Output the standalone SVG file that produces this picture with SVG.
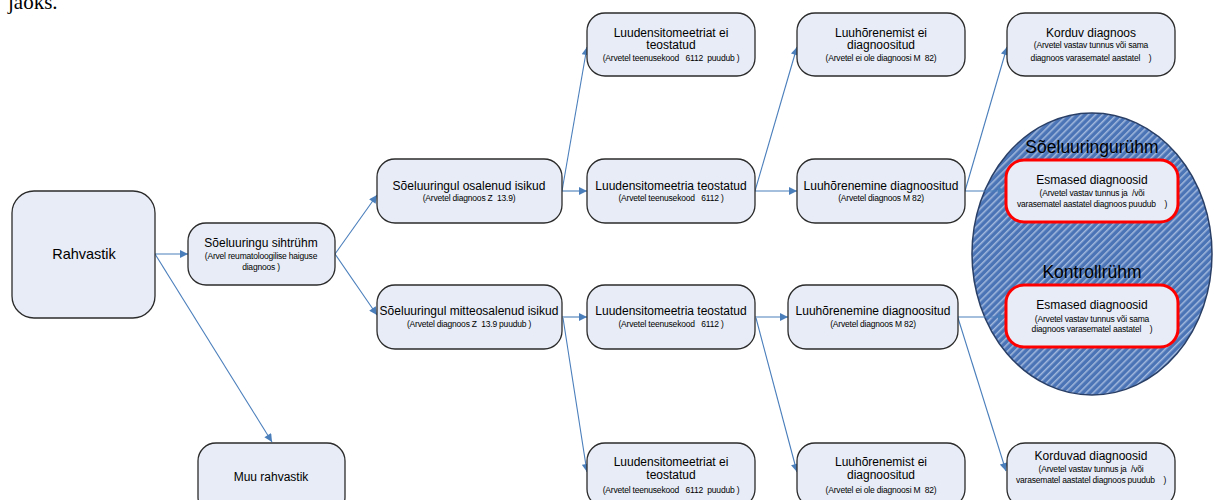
<svg xmlns="http://www.w3.org/2000/svg" width="1215" height="500" viewBox="0 0 1215 500">
<defs>
<style>
.box{fill:#e7ecf6;stroke:#2b2b2b;stroke-width:1.3}
.red{fill:#e7ecf6;stroke:#ff0000;stroke-width:3}
.t{font-family:"Liberation Sans",Arial,sans-serif;font-size:12px;fill:#000;text-anchor:middle}
.s{font-family:"Liberation Sans",Arial,sans-serif;font-size:8.5px;fill:#000;text-anchor:middle;white-space:pre;letter-spacing:-0.2px}
.g{font-family:"Liberation Sans",Arial,sans-serif;font-size:17.5px;fill:#000;text-anchor:middle}
.c{fill:none;stroke:#4a7ebb;stroke-width:1.1;marker-end:url(#ah)}
</style>
<marker id="ah" viewBox="0 0 10 10" refX="10" refY="5" markerWidth="10" markerHeight="8" markerUnits="userSpaceOnUse" orient="auto">
<path d="M0,0 L10,5 L0,10 z" fill="#4a7ebb"/>
</marker>
<pattern id="hatch" patternUnits="userSpaceOnUse" width="5" height="5" patternTransform="rotate(45)">
<rect width="5" height="5" fill="#4a74b6"/>
<line x1="0.8" y1="0" x2="0.8" y2="5" stroke="#b3c5e4" stroke-width="1.3"/>
</pattern>
</defs>
<rect width="1215" height="500" fill="#ffffff"/>
<text x="8" y="9" font-family="Liberation Serif,'Times New Roman',serif" font-size="21px" fill="#000">jaoks.</text>

<g id="group-ellipse">
<ellipse cx="1092" cy="254" rx="120" ry="141" fill="url(#hatch)" stroke="#2a3f66" stroke-width="1.5"/>
<text class="g" x="1092" y="153">Sõeluuringurühm</text>
<text class="g" x="1092" y="278">Kontrollrühm</text>
</g>

<g id="connectors">
<line class="c" x1="155" y1="254" x2="188" y2="254"/>
<line class="c" x1="155" y1="254" x2="272" y2="442"/>
<line class="c" x1="335" y1="254" x2="377" y2="195"/>
<line class="c" x1="335" y1="254" x2="377" y2="315"/>
<line class="c" x1="562" y1="191" x2="587" y2="47"/>
<line class="c" x1="562" y1="191" x2="587" y2="191"/>
<line class="c" x1="562" y1="317" x2="587" y2="317"/>
<line class="c" x1="563" y1="318" x2="587" y2="472"/>
<line class="c" x1="755" y1="191" x2="797" y2="47"/>
<line class="c" x1="755" y1="191" x2="797" y2="191"/>
<line class="c" x1="755" y1="317" x2="788" y2="317"/>
<line class="c" x1="756" y1="318" x2="797" y2="472"/>
<line class="c" x1="965" y1="191" x2="1007" y2="47"/>
<line class="c" x1="965" y1="191" x2="1006" y2="191"/>
<line class="c" x1="958" y1="317" x2="1006" y2="317"/>
<line class="c" x1="958" y1="318" x2="1006" y2="471"/>
</g>

<g id="n-rahvastik">
<rect class="box" x="12" y="191" width="143" height="127" rx="22"/>
<text class="t" x="84" y="259" style="font-size:14.5px">Rahvastik</text>
</g>
<g id="n-sihtruhm">
<rect class="box" x="188" y="223" width="147" height="62" rx="18"/>
<text class="t" x="261" y="247">Sõeluuringu sihtrühm</text>
<text class="s" x="261" y="259">(Arvel reumatoloogilise haiguse</text>
<text class="s" x="261" y="270">diagnoos )</text>
</g>
<g id="n-muu">
<rect class="box" x="198" y="443" width="147" height="72" rx="18"/>
<text class="t" x="271" y="481">Muu rahvastik</text>
</g>
<g id="n-osalenud">
<rect class="box" x="377" y="159" width="185" height="64" rx="18"/>
<text class="t" x="469" y="190">Sõeluuringul osalenud isikud</text>
<text class="s" x="469" y="201">(Arvetel diagnoos Z  13.9)</text>
</g>
<g id="n-mitteosalenud">
<rect class="box" x="377" y="285" width="185" height="64" rx="18"/>
<text class="t" x="469" y="315">Sõeluuringul mitteosalenud isikud</text>
<text class="s" x="469" y="327">(Arvetel diagnoos Z  13.9 puudub )</text>
</g>
<g id="n-ld-ei-top">
<rect class="box" x="587" y="13" width="168" height="63" rx="18"/>
<text class="t" x="671" y="37">Luudensitomeetriat ei</text>
<text class="t" x="671" y="49">teostatud</text>
<text class="s" x="671" y="61">(Arvetel teenusekood   6112  puudub )</text>
</g>
<g id="n-ld-top">
<rect class="box" x="587" y="159" width="168" height="64" rx="18"/>
<text class="t" x="671" y="190">Luudensitomeetria teostatud</text>
<text class="s" x="671" y="201">(Arvetel teenusekood   6112 )</text>
</g>
<g id="n-ld-bottom">
<rect class="box" x="587" y="285" width="168" height="64" rx="18"/>
<text class="t" x="671" y="315">Luudensitomeetria teostatud</text>
<text class="s" x="671" y="327">(Arvetel teenusekood   6112 )</text>
</g>
<g id="n-ld-ei-bottom">
<rect class="box" x="587" y="443" width="168" height="64" rx="18"/>
<text class="t" x="671" y="466">Luudensitomeetriat ei</text>
<text class="t" x="671" y="479">teostatud</text>
<text class="s" x="671" y="493">(Arvetel teenusekood   6112  puudub )</text>
</g>
<g id="n-lh-ei-top">
<rect class="box" x="797" y="13" width="168" height="63" rx="18"/>
<text class="t" x="881" y="37">Luuhõrenemist ei</text>
<text class="t" x="881" y="49">diagnoositud</text>
<text class="s" x="881" y="61">(Arvetel ei ole diagnoosi M  82)</text>
</g>
<g id="n-lh-top">
<rect class="box" x="797" y="159" width="168" height="64" rx="18"/>
<text class="t" x="881" y="190">Luuhõrenemine diagnoositud</text>
<text class="s" x="881" y="201">(Arvetel diagnoos M 82)</text>
</g>
<g id="n-lh-bottom">
<rect class="box" x="788" y="285" width="170" height="64" rx="18"/>
<text class="t" x="873" y="315">Luuhõrenemine diagnoositud</text>
<text class="s" x="873" y="327">(Arvetel diagnoos M 82)</text>
</g>
<g id="n-lh-ei-bottom">
<rect class="box" x="797" y="443" width="168" height="64" rx="18"/>
<text class="t" x="881" y="466">Luuhõrenemist ei</text>
<text class="t" x="881" y="479">diagnoositud</text>
<text class="s" x="881" y="493">(Arvetel ei ole diagnoosi M  82)</text>
</g>
<g id="n-korduv">
<rect class="box" x="1007" y="13" width="168" height="63" rx="18"/>
<text class="t" x="1091" y="37">Korduv diagnoos</text>
<text class="s" x="1091" y="48">(Arvetel vastav tunnus või sama</text>
<text class="s" x="1091" y="61">diagnoos varasematel aastatel    )</text>
</g>
<g id="n-esmased-1">
<rect class="red" x="1006" y="160" width="172" height="62" rx="18"/>
<text class="t" x="1092" y="184">Esmased diagnoosid</text>
<text class="s" x="1092" y="196">(Arvetel vastav tunnus ja  /või</text>
<text class="s" x="1092" y="207">varasematel aastatel diagnoos puudub    )</text>
</g>
<g id="n-esmased-2">
<rect class="red" x="1006" y="285" width="172" height="62" rx="18"/>
<text class="t" x="1092" y="309">Esmased diagnoosid</text>
<text class="s" x="1092" y="322">(Arvetel vastav tunnus või sama</text>
<text class="s" x="1092" y="332">diagnoos varasematel aastatel    )</text>
</g>
<g id="n-korduvad">
<rect class="box" x="1007" y="443" width="168" height="64" rx="18"/>
<text class="t" x="1091" y="460">Korduvad diagnoosid</text>
<text class="s" x="1091" y="472">(Arvetel vastav tunnus ja  /või</text>
<text class="s" x="1091" y="483">varasematel aastatel diagnoos puudub    )</text>
</g>
</svg>
